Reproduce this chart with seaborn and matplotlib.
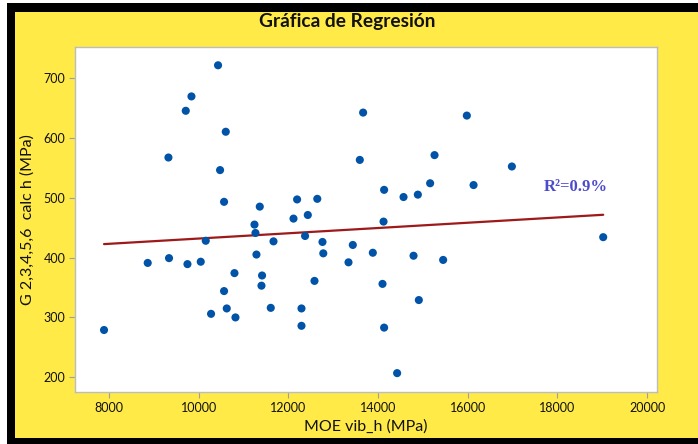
import numpy as np
import pandas as pd
import matplotlib
matplotlib.use("Agg")
import matplotlib.pyplot as plt
from matplotlib.patches import Rectangle
import seaborn as sns

# MOE vib_h (MPa) and G 2,3,4,5,6 calc h (MPa) per specimen
moe = [7891, 8865, 9327, 9340, 9713, 9840, 9751, 10047, 10159, 10277,
       10433, 10478, 10567, 10605, 10567, 10627, 10799, 10821, 11245, 11267,
       11289, 11363, 11414, 11401, 11669, 11608, 12115, 12195, 12293, 12293,
       12434, 12373, 12645, 12583, 12761, 12779, 13341, 13437, 13593, 13667,
       13883, 14135, 14122, 14099, 14135, 14425, 14568, 14791, 14887, 14909,
       15161, 15259, 15451, 15979, 16129, 16983, 19019]
g_calc = [279, 391, 567, 399, 645, 669, 389, 393, 428, 306,
          721, 546, 493, 610, 344, 315, 374, 300, 455, 441,
          405, 485, 370, 353, 427, 316, 465, 497, 315, 286,
          471, 436, 498, 361, 426, 407, 392, 421, 563, 642,
          408, 513, 460, 356, 283, 207, 501, 403, 505, 329,
          524, 571, 396, 637, 521, 552, 434]

# fitted regression line  G = a + b * MOE
fit_intercept = 387.7
fit_slope = 0.0044
r_squared_label = "R²=0.9%"

x_ticks = [8000, 10000, 12000, 14000, 16000, 18000, 20000]
y_ticks = [200, 300, 400, 500, 600, 700]

title = "Gráfica de Regresión"
x_label = "MOE vib_h (MPa)"
y_label = "G 2,3,4,5,6  calc h (MPa)"

df = pd.DataFrame({"moe": moe, "g": g_calc})
fit_x = np.array([min(moe), max(moe)])
fit_df = pd.DataFrame({"moe": fit_x, "g": fit_intercept + fit_slope * fit_x})

sns.set_theme(style="white")
plt.rcParams["font.family"] = ["Lato", "DejaVu Sans"]

YELLOW = "#FFEA47"
fig = plt.figure(figsize=(6.98, 4.44), dpi=100, facecolor="white")

# framed yellow panel
fig.patches.append(Rectangle((7 / 698, 0), 1, 441 / 444, transform=fig.transFigure,
                             facecolor="black", edgecolor="none", zorder=-2))
fig.patches.append(Rectangle((15 / 698, 6 / 444), 1, 426 / 444, transform=fig.transFigure,
                             facecolor=YELLOW, edgecolor="none", zorder=-1))

ax = fig.add_axes([75 / 698, 51.7 / 444, 582.3 / 698, 345 / 444])
ax.set_facecolor("white")

sns.lineplot(data=fit_df, x="moe", y="g", ax=ax, color="#9E1A1A", linewidth=1.6, zorder=2)
sns.scatterplot(data=df, x="moe", y="g", ax=ax, color="#0053A6", s=34,
                edgecolor="none", linewidth=0, zorder=3)

ax.set_xlim(7244, 20225)
ax.set_ylim(175, 751)
ax.set_xticks(x_ticks)
ax.set_yticks(y_ticks)
ax.set_xticklabels([str(t) for t in x_ticks])
ax.set_yticklabels([str(t) for t in y_ticks])
ax.tick_params(axis="both", which="major", direction="out", length=4, width=0.8,
               color="#A0A0A0", labelsize=9, labelcolor="#111111", pad=3,
               bottom=True, left=True)
for sp in ax.spines.values():
    sp.set_color("#BDBDBD")
    sp.set_linewidth(1.0)

ax.set_xlabel(x_label, fontsize=11.5, color="#111111", labelpad=4)
ax.set_ylabel(y_label, fontsize=11.5, color="#111111", labelpad=6)

ax.text(17700, 517, r_squared_label, fontsize=12, fontweight="bold",
        family=["Liberation Serif", "DejaVu Serif"], color="#4B4BCB",
        ha="left", va="center", zorder=4)

fig.text(347 / 698, 1 - 22 / 444, title, fontsize=13.8, fontweight="bold",
         color="#111111", ha="center", va="center")

fig.savefig("out.png", dpi=100, facecolor=fig.get_facecolor())
